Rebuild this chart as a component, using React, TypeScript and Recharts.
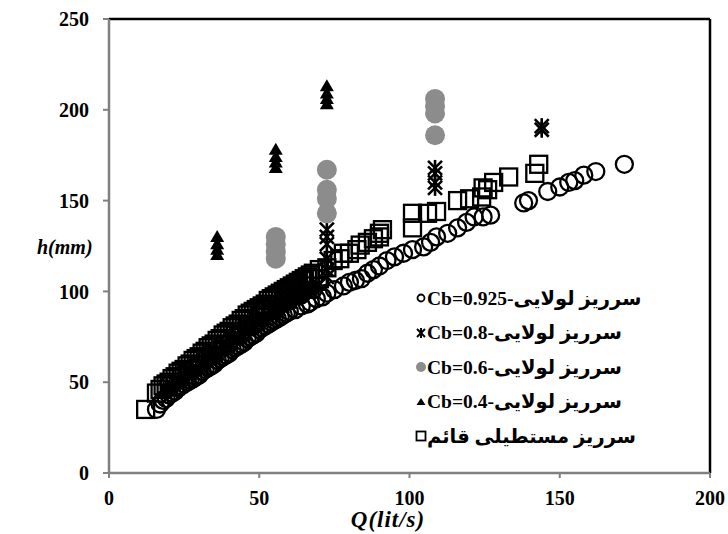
import React from 'react';
import { ScatterChart, Scatter, XAxis, YAxis, ReferenceLine } from 'recharts';

const qTicks = [0, 50, 100, 150, 200];
const hTicks = [0, 50, 100, 150, 200, 250];

// Hinged weir Cb=0.925 (open circles) [Q, h]
const hinged0925: [number, number][] = [
  [15.8, 35], [17, 38], [18, 40], [19, 41], [20, 43], [21, 44], [22, 45], [23, 47], [24, 48], [25, 49],
  [26, 50], [27, 51], [28, 52], [29, 53], [30, 54], [31, 56], [32, 57], [33, 58], [34, 59], [35, 60],
  [36, 62], [37, 63], [38, 64], [39, 65], [40, 66], [41, 68], [42, 69], [43, 70], [44, 71], [45, 72],
  [46, 74], [47, 75], [48, 76], [49, 77], [50, 79], [51, 80], [52, 81], [53, 82], [54, 83], [55, 84],
  [56, 85], [57, 86], [58, 87], [59, 88], [60, 89], [62, 90], [64, 92], [66, 93], [67, 94], [69, 96],
  [71, 97], [72.5, 99], [75, 101], [78, 103], [80, 105], [82, 106], [84, 107], [86, 110], [88, 112], [90, 114],
  [92.5, 117], [95, 119], [98, 121], [101, 123], [104.7, 124.5], [107, 127], [109, 130], [112.7, 132], [116, 135], [119, 138],
  [121.5, 141], [124.5, 141], [127, 142], [138, 148.7], [139.6, 150], [146, 155], [150, 157.5], [153, 160], [155, 161], [158, 164],
  [162, 166], [171.5, 170],
  [20, 49], [24, 54], [28, 58], [32, 63], [36, 68], [40, 72], [44, 77], [48, 82], [52, 87], [56, 91],
  [60, 95], [64, 98], [68, 101],
];

// Hinged weir Cb=0.8 (stars)
const hinged08: [number, number][] = [
  [19, 46], [23, 51], [27, 56], [31, 61], [35, 66], [39, 71], [43, 76], [47, 81], [51, 86], [55, 90],
  [59, 95], [63, 99], [67, 103],
  [72.5, 108], [72.5, 112], [72.5, 118], [72.5, 126], [72.5, 130], [72.5, 134],
  [108.5, 157], [108.5, 160], [108.5, 165], [108.5, 168],
  [144, 189], [144, 191],
];

// Hinged weir Cb=0.6 (grey filled circles)
const hinged06: [number, number][] = [
  [55.5, 118], [55.5, 122], [55.5, 126], [55.5, 130],
  [72.5, 143], [72.5, 151], [72.5, 156], [72.5, 167],
  [108.5, 186], [108.5, 198], [108.5, 202], [108.5, 206],
];

// Hinged weir Cb=0.4 (filled triangles)
const hinged04: [number, number][] = [
  [18, 44], [20, 47], [22, 49], [24, 52], [26, 54], [28, 57], [30, 59], [32, 61], [34, 64], [36, 66],
  [38, 69], [40, 71], [42, 73], [44, 76], [46, 78], [48, 80], [50, 83], [52, 85], [54, 87], [56, 89],
  [58, 91], [60, 93], [62, 95], [64, 97], [66, 99], [68, 101], [70, 103],
  [36, 120], [36, 123], [36, 126], [36, 130],
  [55.5, 168], [55.5, 171], [55.5, 174], [55.5, 178],
  [72.5, 203], [72.5, 206], [72.5, 209], [72.5, 213],
];

// Vertical rectangular weir (open squares)
const rectWeir: [number, number][] = [
  [12.2, 35], [15.8, 44], [17, 46], [18, 48], [19, 49], [20, 50], [21, 52], [22, 53], [23, 55], [24, 56],
  [25, 57], [26, 59], [27, 60], [28, 62], [29, 63], [30, 64], [31, 66], [32, 67], [33, 69], [34, 70],
  [35, 71], [36, 73], [37, 74], [38, 76], [39, 77], [40, 78], [41, 80], [42, 81], [43, 82], [44, 84],
  [45, 85], [46, 87], [47, 88], [48, 89], [49, 90], [50, 91], [51, 92], [52, 93], [53, 95], [54, 96],
  [55, 97], [56, 98], [57, 99], [58, 100], [59, 101], [60, 102], [61, 103], [62, 104], [63, 105], [64, 106],
  [65, 107], [66, 108], [67, 109], [68, 110], [70, 112], [72.5, 113], [74.6, 117], [76.8, 118], [78, 121], [80, 121],
  [82.5, 123], [83.6, 125.5], [86, 127], [88, 129], [90, 130], [90, 132], [91, 134], [101, 135], [101, 143], [106, 143],
  [109, 144], [116, 150], [120, 151], [124, 152], [124.5, 157], [126, 156], [128, 160], [133, 163], [141.7, 165], [143, 170],
  [22, 48], [26, 54], [30, 59], [34, 65], [38, 70], [42, 76], [46, 81], [50, 86], [54, 90], [58, 95],
  [62, 99], [66, 103], [70, 107],
];

const legendLabels = [
  'Cb=0.925-سرریز لولایی',
  'Cb=0.8-سرریز لولایی',
  'Cb=0.6-سرریز لولایی',
  'Cb=0.4-سرریز لولایی',
  'سرریز مستطیلی قائم',
];

const toPts = (arr: [number, number][]) => arr.map(([x, y]) => ({ x, y }));

const FONT = "'Liberation Serif', 'DejaVu Sans', serif";

const OpenCircle = (p: any) => (
  <circle cx={p.cx} cy={p.cy} r={8.5} fill="none" stroke="#000" strokeWidth={2.3} />
);
const Star = (p: any) => {
  const { cx, cy } = p;
  const s = 7;
  return (
    <g stroke="#000" strokeWidth={2.6}>
      <line x1={cx - s} y1={cy - s} x2={cx + s} y2={cy + s} />
      <line x1={cx - s} y1={cy + s} x2={cx + s} y2={cy - s} />
      <line x1={cx} y1={cy - s - 1} x2={cx} y2={cy + s + 1} />
    </g>
  );
};
const GreyDot = (p: any) => <circle cx={p.cx} cy={p.cy} r={10} fill="#8c8c8c" stroke="none" />;
const Tri = (p: any) => {
  const { cx, cy } = p;
  return <path d={`M${cx},${cy - 7} L${cx + 7},${cy + 5} L${cx - 7},${cy + 5} Z`} fill="#000" />;
};
const Sq = (p: any) => (
  <rect x={p.cx - 8.5} y={p.cy - 8.5} width={17} height={17} fill="none" stroke="#000" strokeWidth={2.3} />
);

const legendMarkers = [
  <circle cx={6} cy={6} r={3.5} fill="none" stroke="#000" strokeWidth={1.8} />,
  <g stroke="#000" strokeWidth={2}>
    <line x1={2} y1={2} x2={10} y2={10} />
    <line x1={2} y1={10} x2={10} y2={2} />
    <line x1={6} y1={1} x2={6} y2={11} />
  </g>,
  <circle cx={6} cy={6} r={5} fill="#8c8c8c" />,
  <path d="M6,2 L10.5,9 L1.5,9 Z" fill="#000" />,
  <rect x={1.5} y={1.5} width={9} height={9} fill="none" stroke="#000" strokeWidth={1.8} />,
];

const tickStyle = { fill: '#000', fontSize: 20, fontWeight: 'bold', fontFamily: FONT };

export default function App() {
  return (
    <div style={{ position: 'absolute', left: 0, top: 0, width: 728, height: 534, background: '#fff' }}>
      <ScatterChart width={728} height={534} margin={{ top: 19, right: 18, bottom: 0, left: 0 }}>
        <XAxis
          type="number"
          dataKey="x"
          domain={[0, 200]}
          ticks={qTicks}
          interval={0}
          height={61}
          axisLine={{ stroke: '#808080', strokeWidth: 2.5 }}
          tickLine={{ stroke: '#808080', strokeWidth: 2 }}
          tickSize={5}
          tickMargin={13}
          tick={tickStyle}
          allowDataOverflow
        />
        <YAxis
          type="number"
          dataKey="y"
          domain={[0, 250]}
          ticks={hTicks}
          interval={0}
          width={109}
          axisLine={{ stroke: '#808080', strokeWidth: 2.5 }}
          tickLine={{ stroke: '#808080', strokeWidth: 2 }}
          tickSize={6}
          tickMargin={14}
          tick={tickStyle}
          allowDataOverflow
        />
        <ReferenceLine y={250} stroke="#000" strokeWidth={2.5} />
        <ReferenceLine x={200} stroke="#000" strokeWidth={2.5} />
        <Scatter data={toPts(hinged0925)} shape={OpenCircle} isAnimationActive={false} />
        <Scatter data={toPts(hinged08)} shape={Star} isAnimationActive={false} />
        <Scatter data={toPts(hinged06)} shape={GreyDot} isAnimationActive={false} />
        <Scatter data={toPts(hinged04)} shape={Tri} isAnimationActive={false} />
        <Scatter data={toPts(rectWeir)} shape={Sq} isAnimationActive={false} />
      </ScatterChart>

      <div
        style={{
          position: 'absolute', left: 37, top: 234, fontFamily: FONT, fontWeight: 'bold',
          fontStyle: 'italic', fontSize: 20, color: '#000', lineHeight: '26px',
        }}
      >
        h(mm)
      </div>
      <div
        style={{
          position: 'absolute', left: 328, top: 507, width: 120, textAlign: 'center', fontFamily: FONT,
          fontWeight: 'bold', fontStyle: 'italic', fontSize: 23, letterSpacing: 1, color: '#000', lineHeight: '26px',
        }}
      >
        Q(lit/s)
      </div>

      <div style={{ position: 'absolute', left: 415, top: 281 }}>
        {legendLabels.map((lab, i) => (
          <div key={i} style={{ display: 'flex', alignItems: 'center', height: 34.5, direction: 'ltr' }}>
            <svg width={12} height={12} style={{ marginRight: 0 }}>
              {legendMarkers[i]}
            </svg>
            <span style={{ fontFamily: FONT, fontWeight: 'bold', fontSize: 19.5, color: '#000', whiteSpace: 'nowrap', direction: 'ltr' }}>
              {lab}
            </span>
          </div>
        ))}
      </div>
    </div>
  );
}
